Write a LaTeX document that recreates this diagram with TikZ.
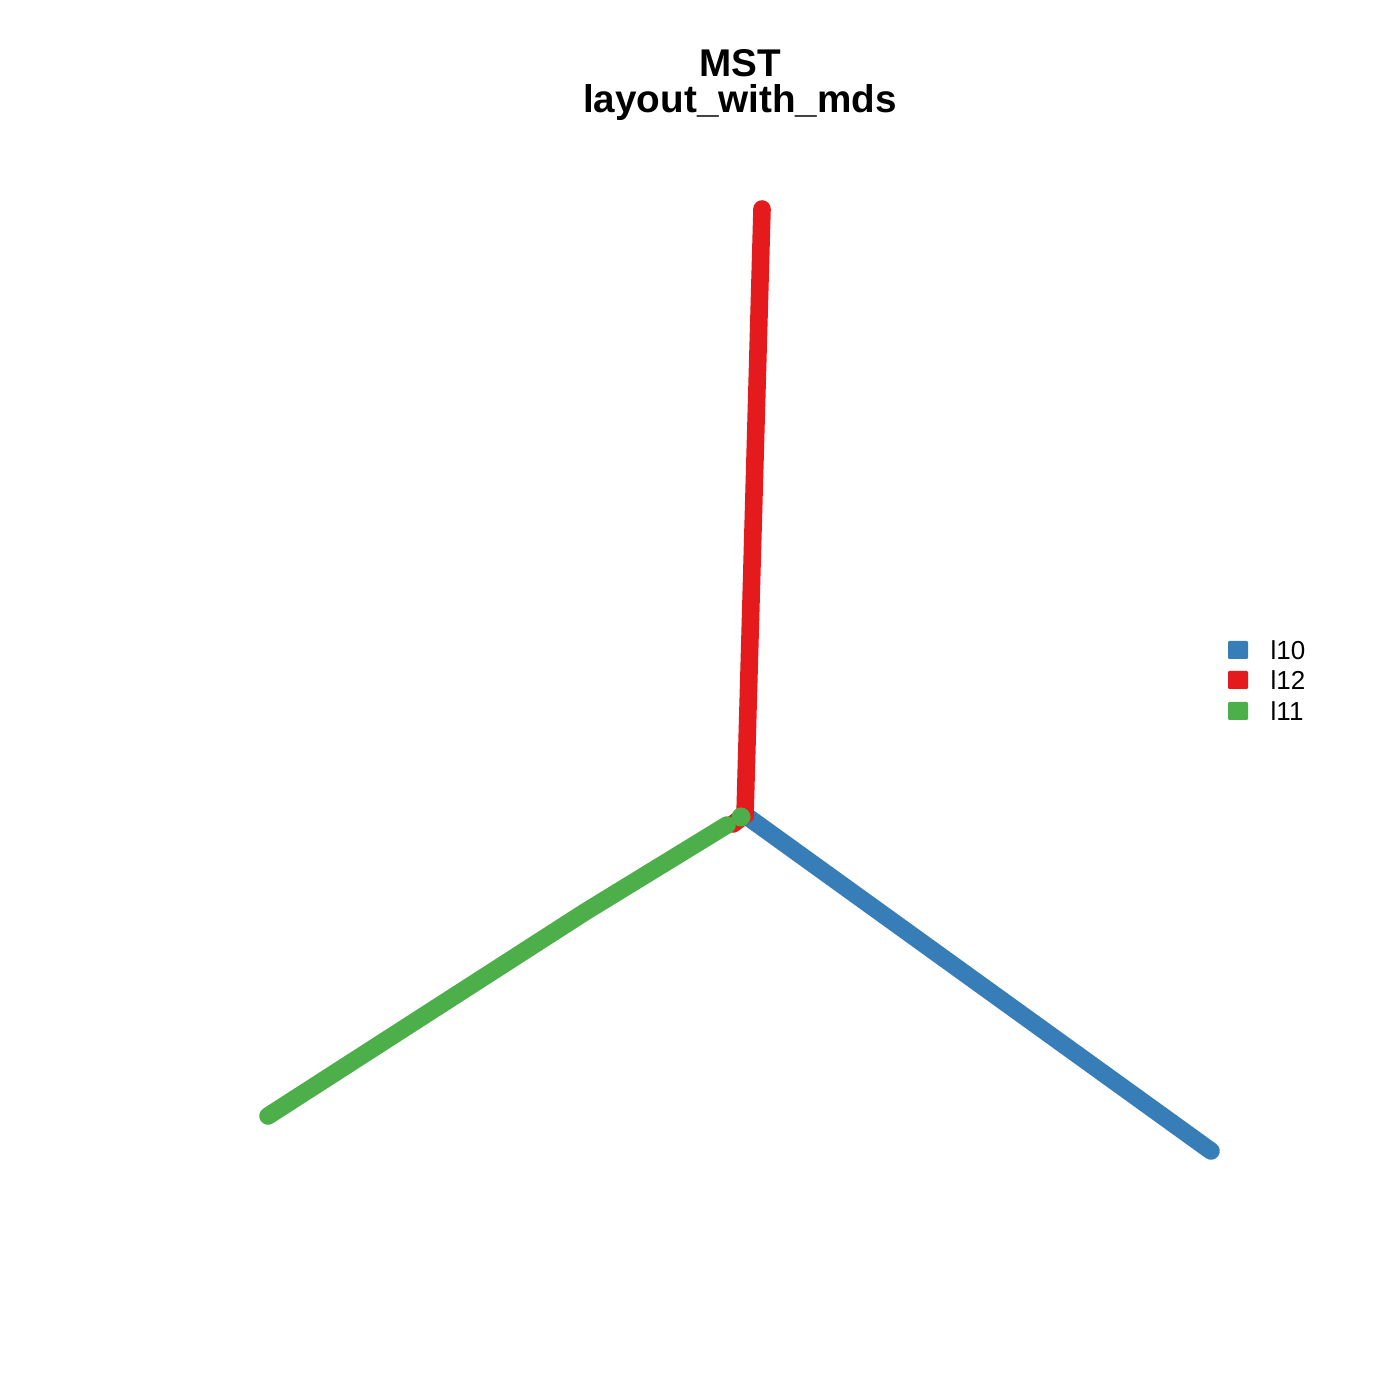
\documentclass[tikz,border=0pt]{standalone}
\usepackage{fontspec}
\setmainfont{Liberation Sans}
\definecolor{cblue}{HTML}{377EB8}
\definecolor{cred}{HTML}{E41A1C}
\definecolor{cgreen}{HTML}{4DAF4A}
\tikzset{
    arm/.style = {line width = 5pt, line cap = round},
    key/.style = {minimum width = 0.2cm, minimum height = 0.18cm, inner sep = 0pt, rounded corners = 0.3pt},
    keytext/.style = {anchor = west, font = \fontsize{7.4}{9}\selectfont, inner sep = 0pt}
}
\begin{document}
\begin{tikzpicture}
    \useasboundingbox (0,0) rectangle (14,14);
    \def\lx{12.38}
    \def\tx{12.70}
    % arm ends
    \coordinate (hub) at (7.45,5.85);
    \coordinate (redend) at (7.62,11.91);
    \coordinate (blueend) at (12.11,2.49);
    \coordinate (greenhub) at (7.41,5.83);
    \coordinate (greenbend) at (5.85,4.88);
    \coordinate (greenend) at (2.68,2.84);
    \draw[arm, cblue] (hub) -- (blueend);
    \draw[arm, cred] (redend) -- (hub) -- (7.33,5.76);
    \draw[arm, cgreen] (7.27,5.75) -- (greenbend) -- (greenend);
    \fill[cgreen] (greenhub) circle (0.095);
    % title
    \node(title1) [font = \fontsize{11}{13}\selectfont\bfseries] at (7.40,13.37) {MST};
    \node(title2) [font = \fontsize{11}{13}\selectfont\bfseries] at (7.40,12.97) {layout\_with\_mds};
    % legend
    \node(k1) [key, fill = cblue] at (\lx,7.50) {};
    \node(k2) [key, fill = cred] at (\lx,7.20) {};
    \node(k3) [key, fill = cgreen] at (\lx,6.89) {};
    \node(t1) [keytext] at (\tx,7.50) {l10};
    \node(t2) [keytext] at (\tx,7.20) {l12};
    \node(t3) [keytext] at (\tx,6.89) {l11};
\end{tikzpicture}
\end{document}
